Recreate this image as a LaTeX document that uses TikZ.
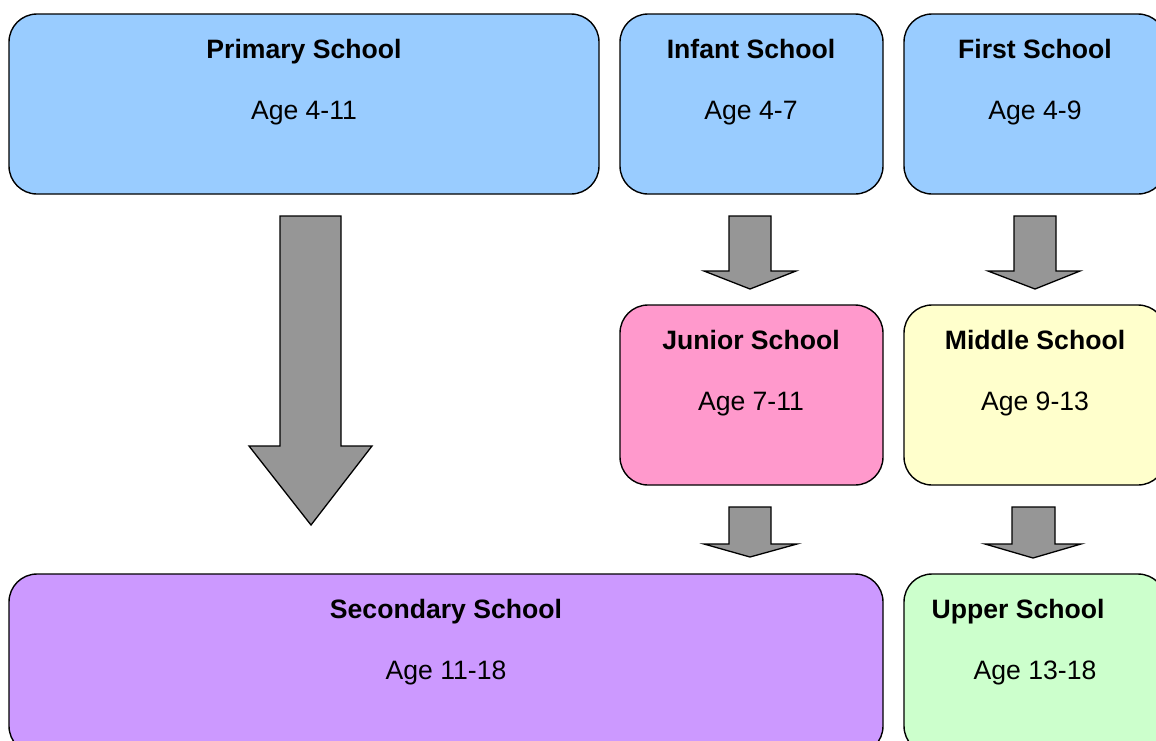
\documentclass[tikz,border=0pt]{standalone}
\usepackage{fontspec}
\setmainfont{Liberation Sans}
\definecolor{cblue}{HTML}{99CCFF}
\definecolor{cpink}{HTML}{FF99CC}
\definecolor{cyellow}{HTML}{FFFFCC}
\definecolor{cpurple}{HTML}{CC99FF}
\definecolor{cgreen}{HTML}{CCFFCC}
\definecolor{cgray}{HTML}{969696}
\tikzset{
  box/.style={draw=black, line width=1.4pt, rounded corners=28pt, inner sep=0pt},
  title/.style={font=\fontsize{26.6}{30}\selectfont\bfseries, inner sep=0pt, anchor=base},
  agetxt/.style={font=\fontsize{26.6}{30}\selectfont, inner sep=0pt, anchor=base},
  blockarrow/.style={draw=black, line width=1.3pt, fill=cgray, line join=miter}
}
\begin{document}
\begin{tikzpicture}[x=1pt,y=-1pt]
\useasboundingbox (0,0) rectangle (1156,740);
% boxes
\node[box, fill=cblue, minimum width=590pt, minimum height=180pt] (primary) at (304,104) {};
\node[box, fill=cblue, minimum width=263pt, minimum height=180pt] (infant) at (751.5,104) {};
\node[box, fill=cblue, minimum width=262pt, minimum height=180pt] (first) at (1035,104) {};
\node[box, fill=cpink, minimum width=263pt, minimum height=180pt] (junior) at (751.5,395) {};
\node[box, fill=cyellow, minimum width=262pt, minimum height=180pt] (middle) at (1035,395) {};
\node[box, fill=cpurple, minimum width=874pt, minimum height=180pt] (secondary) at (446,664) {};
\node[box, fill=cgreen, minimum width=262pt, minimum height=180pt] (upper) at (1035,664) {};
% texts
\node[title] (tprimary) at (304,58.5) {Primary School};
\node[agetxt] (aprimary) at (304,119.5) {Age 4-11};
\node[title] (tinfant) at (751,58.5) {Infant School};
\node[agetxt] (ainfant) at (751,119.5) {Age 4-7};
\node[title] (tfirst) at (1035,58.5) {First School};
\node[agetxt] (afirst) at (1035,119.5) {Age 4-9};
\node[title] (tjunior) at (751,349.5) {Junior School};
\node[agetxt] (ajunior) at (751,410.5) {Age 7-11};
\node[title] (tmiddle) at (1035,349.5) {Middle School};
\node[agetxt] (amiddle) at (1035,410.5) {Age 9-13};
\node[title] (tsecondary) at (446,618.5) {Secondary School};
\node[agetxt] (asecondary) at (446,679.5) {Age 11-18};
\node[title] (tupper) at (1018,618.5) {Upper School};
\node[agetxt] (aupper) at (1035,679.5) {Age 13-18};
% block arrows
\draw[blockarrow] (280,216) -- (341,216) -- (341,446) -- (372,446) -- (311,525) -- (249,446) -- (280,446) -- cycle;
\draw[blockarrow] (729,216) -- (771,216) -- (771,271) -- (796,271) -- (750,289) -- (704,271) -- (729,271) -- cycle;
\draw[blockarrow] (1014,216) -- (1056,216) -- (1056,271) -- (1080,271) -- (1035,289) -- (988,271) -- (1014,271) -- cycle;
\draw[blockarrow] (729,507) -- (771,507) -- (771,544) -- (797,544) -- (750,557) -- (704,544) -- (729,544) -- cycle;
\draw[blockarrow] (1012,507) -- (1055,507) -- (1055,544) -- (1081,544) -- (1033,558) -- (985,544) -- (1012,544) -- cycle;
\end{tikzpicture}
\end{document}
